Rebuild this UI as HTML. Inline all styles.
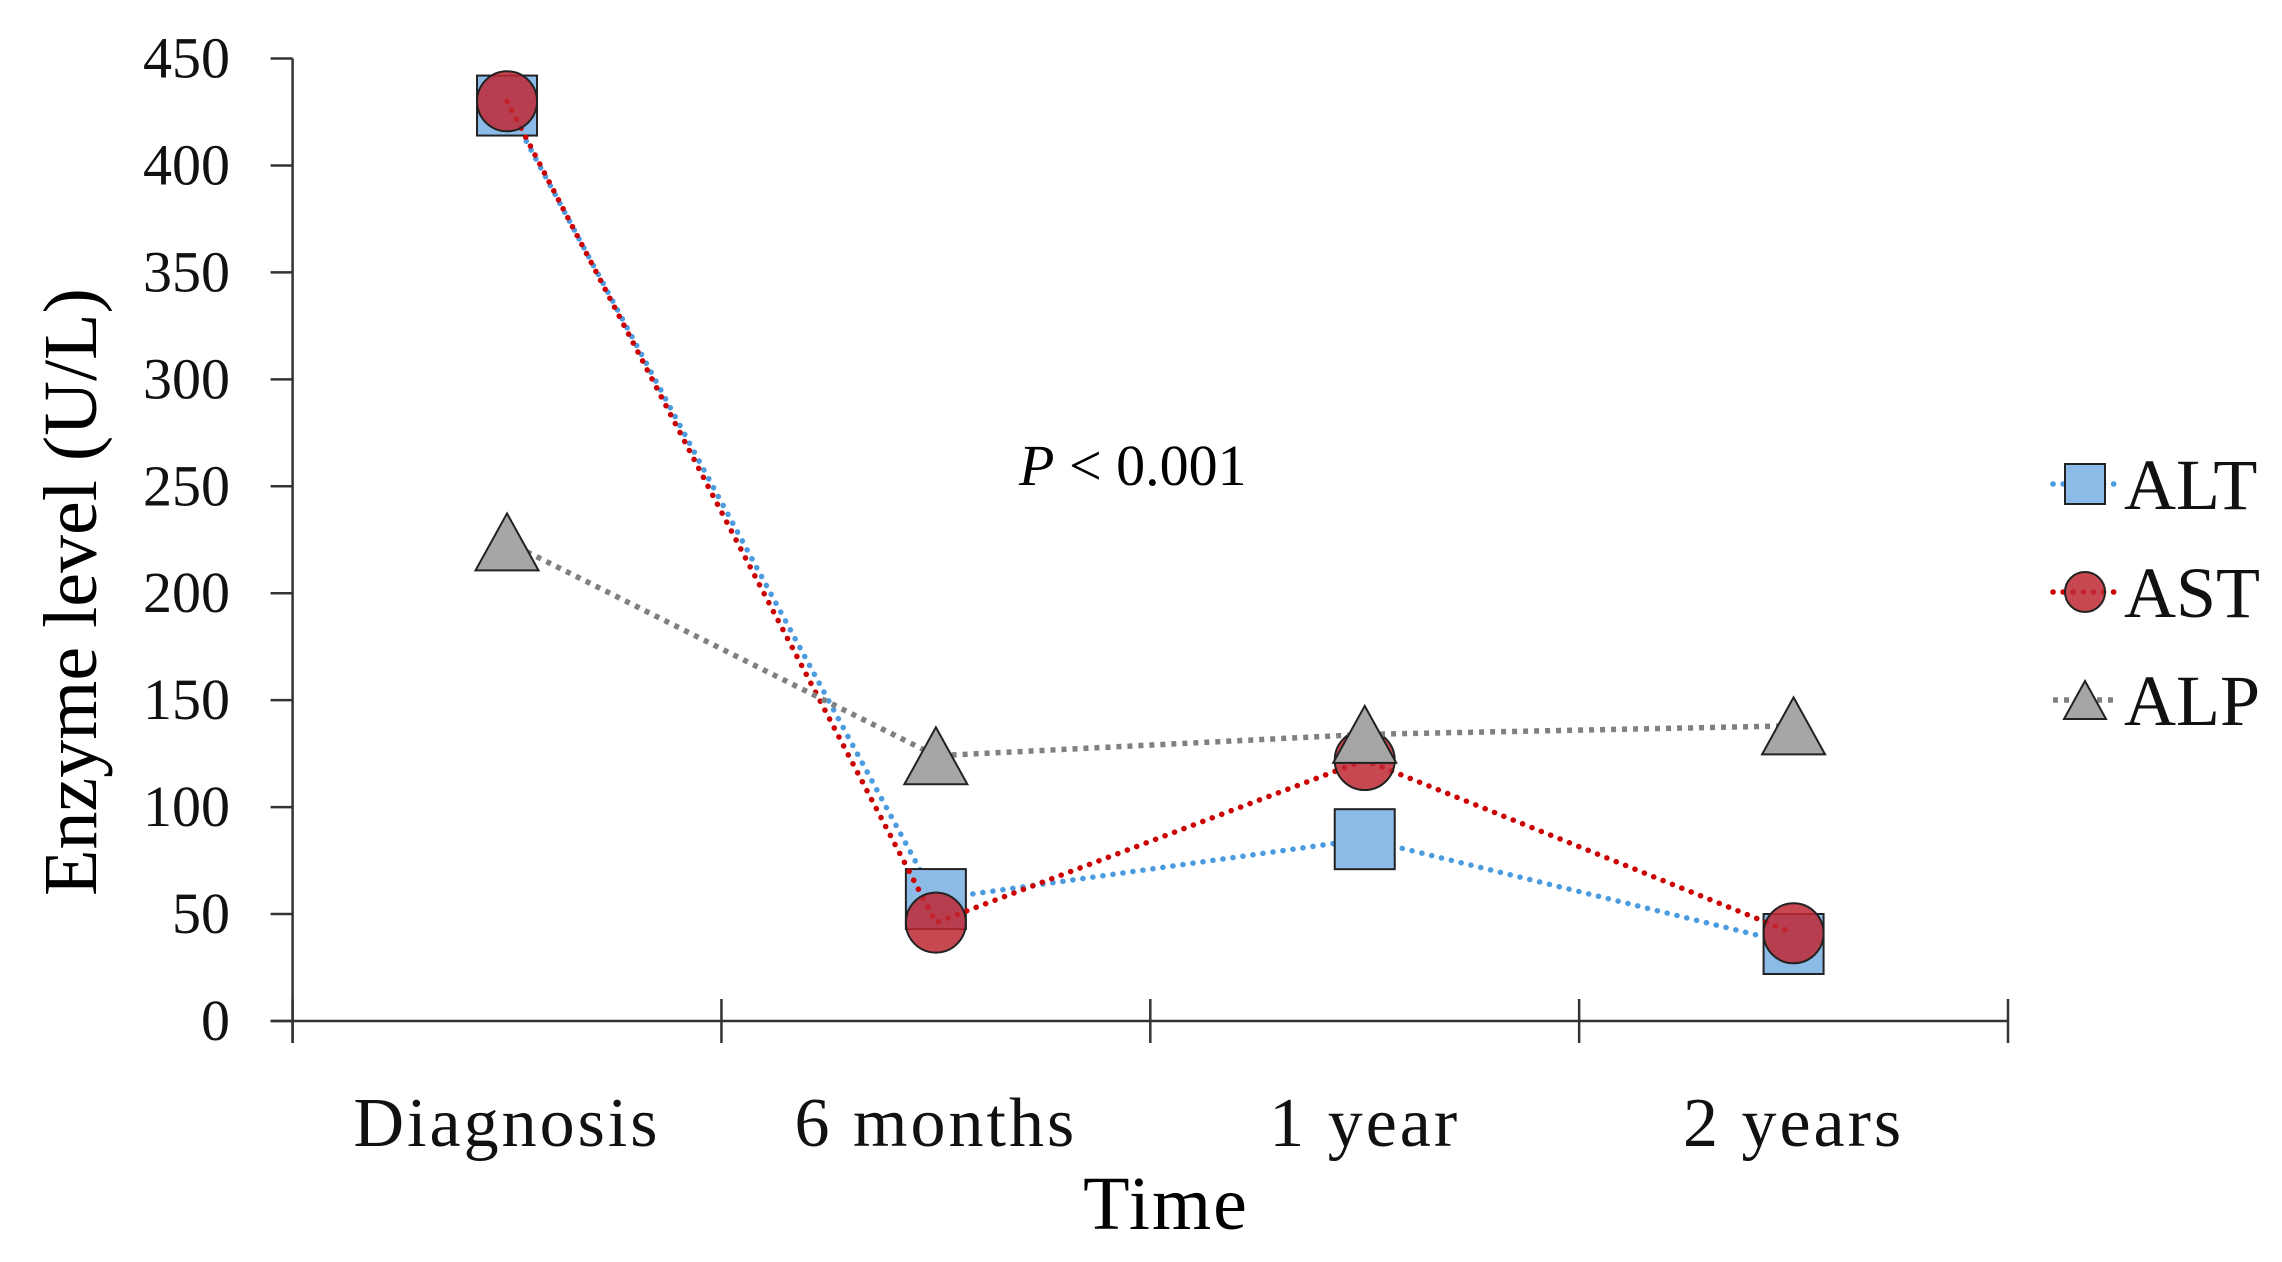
<!DOCTYPE html>
<html><head><meta charset="utf-8"><style>
html,body{margin:0;padding:0;background:#fff;}
svg{display:block;font-family:"Liberation Serif",serif;}
</style></head><body>
<svg id="chart" width="2282" height="1262" viewBox="0 0 2282 1262">
<g id="axes"></g>
<g id="series"></g>
<text x="1019" y="485" font-size="58"><tspan font-style="italic">P</tspan> &lt; 0.001</text>
<text transform="translate(96,592) rotate(-90)" text-anchor="middle" font-size="76">Enzyme level (U/L)</text>
<text x="1166" y="1229" text-anchor="middle" font-size="76" letter-spacing="2">Time</text>
<g id="legend"></g>
</svg>
<script>
const categories = ["Diagnosis","6 months","1 year","2 years"];
const altValues = [428, 57, 85, 36];
const astValues = [430, 46, 122, 41];
const alpValues = [224, 124, 134, 138];
const yTicks = [0,50,100,150,200,250,300,350,400,450];
const seriesNames = ["ALT","AST","ALP"];

const NS="http://www.w3.org/2000/svg";
const x0=292.6, x1=2008, y0=1021, yTop=58.5, yMax=450;
const band=(x1-x0)/categories.length;
function xPos(i){return x0+band*(i+0.5);}
function yPos(v){return y0-(v/yMax)*(y0-yTop);}
function mk(tag,attrs,parent){const e=document.createElementNS(NS,tag);for(const k in attrs)e.setAttribute(k,attrs[k]);parent.appendChild(e);return e;}

const axes=document.getElementById('axes');
let e=mk('line',{x1:x0,y1:yTop,x2:x0,y2:y0+22,stroke:'#333','stroke-width':2.5},axes);


e=mk('line',{x1:x0-22,y1:y0,x2:x1,y2:y0,stroke:'#333','stroke-width':2.5},axes);


yTicks.forEach(t=>{
  const y=yPos(t);
  let l=mk('line',{x1:x0-22,y1:y,x2:x0,y2:y,stroke:'#333','stroke-width':2.5},axes);
  
  
  let tx=mk('text',{x:230,y:y+19,'text-anchor':'end','font-size':58,fill:'#111'},axes);
  tx.textContent=t;
  
  
});
for(let i=0;i<=categories.length;i++){
  const x=x0+band*i;
  let l=mk('line',{x1:x,y1:y0-22,x2:x,y2:y0+22,stroke:'#333','stroke-width':2.5},axes);
  
  
}
categories.forEach((c,i)=>{
  let tx=mk('text',{x:xPos(i),y:1146,'text-anchor':'middle','font-size':70,'letter-spacing':3,fill:'#111'},axes);
  tx.textContent=c;
  
  
});

const styles=[
 {vals:altValues,line:'#4a9be0',fill:'#8dbbe8',dash:'0.1 10',cap:'round',shape:'square'},
 {vals:astValues,line:'#cc0000',fill:'rgba(190,40,50,0.85)',dash:'0.1 10',cap:'round',shape:'circle'},
 {vals:alpValues,line:'#808080',fill:'#a6a6a6',dash:'5 6',cap:'butt',shape:'triangle'}
];
const sg=document.getElementById('series');
function marker(shape,cx,cy,s,fill,parent){
  const h=s/2;
  if(shape==='square') return mk('rect',{x:cx-h,y:cy-h,width:s,height:s,fill:fill,stroke:'#222','stroke-width':2},parent);
  if(shape==='circle') return mk('circle',{cx:cx,cy:cy,r:h,fill:fill,stroke:'#222','stroke-width':2},parent);
  const hh=s*0.95/2, hw=s*1.05/2;
  return mk('polygon',{points:`${cx},${cy-hh} ${cx+hw},${cy+hh} ${cx-hw},${cy+hh}`,fill:fill,stroke:'#222','stroke-width':2},parent);
}
styles.forEach((st,si)=>{
  const g=mk('g',{},sg);
  
  
  const pts=st.vals.map((v,i)=>xPos(i)+','+yPos(v)).join(' ');
  const pl=mk('polyline',{points:pts,fill:'none',stroke:st.line,'stroke-width':5.5,'stroke-dasharray':st.dash,'stroke-linecap':st.cap},g);
  
  
  st.vals.forEach((v,i)=>{
    const m=marker(st.shape,xPos(i),yPos(v),60,st.fill,g);
    
    
  });
});
const lg=document.getElementById('legend');
const ly=[484,592,700];
styles.forEach((st,si)=>{
  const g=mk('g',{},lg);
  
  
  mk('line',{x1:2053,y1:ly[si],x2:2118,y2:ly[si],stroke:st.line,'stroke-width':5.5,'stroke-dasharray':st.dash,'stroke-linecap':st.cap},g);
  marker(st.shape,2085,ly[si],40,st.fill,g);
  const t=mk('text',{x:2124,y:ly[si]+25,'font-size':72,fill:'#111'},g);
  t.textContent=seriesNames[si];
});
</script>
</body></html>
